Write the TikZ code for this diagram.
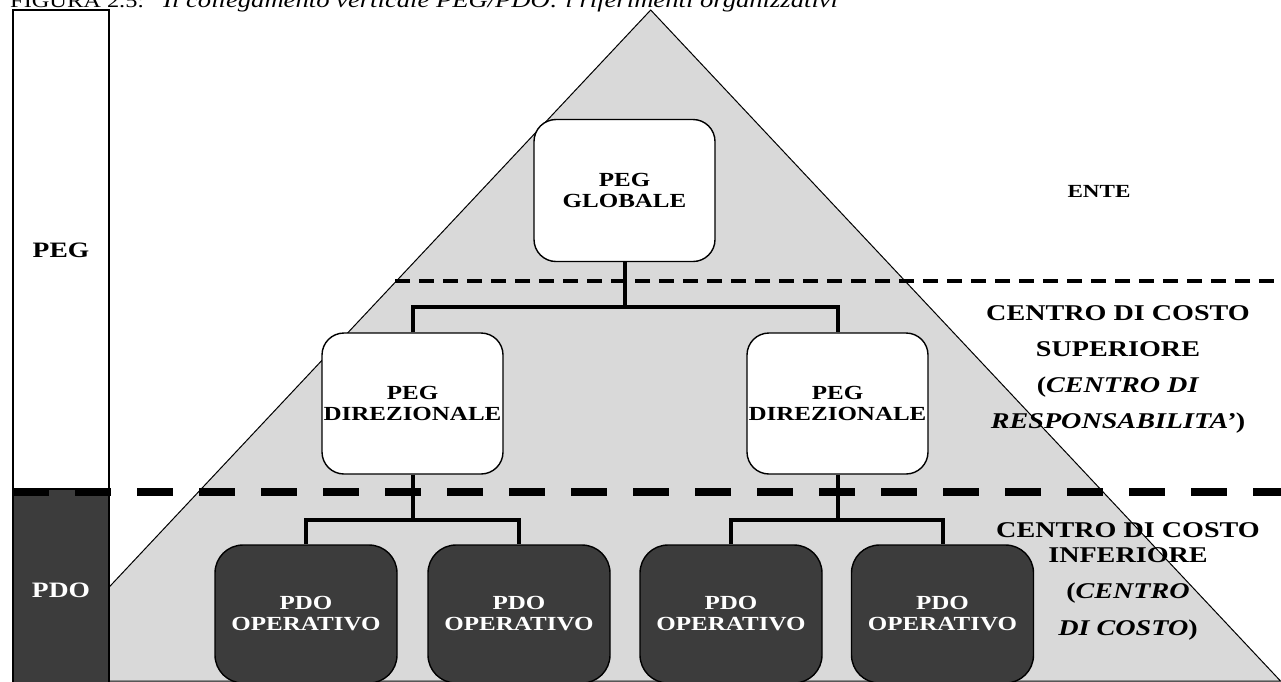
\documentclass[tikz,border=0pt]{standalone}
\usepackage{fontspec}
\setmainfont{Liberation Serif}[FakeStretch=1.25]
\definecolor{lightfill}{HTML}{D9D9D9}
\definecolor{darkfill}{HTML}{3C3C3C}
\begin{document}
\begin{tikzpicture}[x=1pt,y=-1pt,
  boxtext/.style={font=\bfseries\fontsize{20}{21}\selectfont, align=center},
  pegbox/.style={draw, line width=1.4pt, fill=white, rounded corners=22pt, boxtext, inner sep=0pt},
  pdobox/.style={draw, line width=1.4pt, fill=darkfill, text=white, rounded corners=28pt, boxtext, inner sep=0pt},
  conn/.style={line width=4pt},
  sidelab/.style={font=\bfseries\fontsize{22.5}{23}\selectfont, anchor=base},
  barlab/.style={font=\bfseries\fontsize{22}{23}\selectfont, anchor=base},
]
\useasboundingbox (0,0) rectangle (1281,681);
\clip (0,0) rectangle (1281,681);

% title
\node[anchor=base west, inner sep=0pt, font=\fontsize{19.5}{21}\selectfont] (fig) at (10,7) {FIGURA 2.5:};
\node[anchor=base west, inner sep=0pt, font=\itshape\fontsize{21.3}{23}\selectfont] (title) at (163,7) {Il collegamento verticale PEG/PDO: i riferimenti organizzativi};

% pyramid
\coordinate (apex) at (650.7,10);
\coordinate (bl) at (21,681);
\coordinate (br) at (1280.5,681);
\fill[lightfill] (apex) -- (bl) -- (br) -- cycle;

% right labels
\node[sidelab, font=\bfseries\fontsize{18.5}{19}\selectfont] (ente) at (1099,197) {ENTE};
\node[sidelab] (s1) at (1118,320) {CENTRO DI COSTO};
\node[sidelab] (s2) at (1118,356) {SUPERIORE};
\node[sidelab] (s3) at (1118,392) {(\textit{CENTRO DI}};
\node[sidelab] (s4) at (1118,428) {\textit{RESPONSABILITA’}) };
\node[sidelab] (i1) at (1128,537) {CENTRO DI COSTO};
\node[sidelab] (i2) at (1128,562) {INFERIORE};
\node[sidelab] (i3) at (1128,598) {(\textit{CENTRO}};
\node[sidelab] (i4) at (1128,635) {\textit{DI COSTO})};

\draw[line width=1pt] (apex) -- (bl) -- (br) -- cycle;

% left bars
\draw[line width=1.2pt, fill=white] (13,10) rectangle (109,489);
\draw[line width=1.2pt, fill=darkfill] (13,489) rectangle (109,690);
\node[barlab] (pegbar) at (61,257) {PEG};
\node[barlab, text=white] (pdobar) at (61,597) {PDO};

% level separators
\coordinate (sepA) at (395.4,281);
\coordinate (sepAend) at (1281,281);
\draw[line width=4pt, dash pattern=on 15pt off 9pt] (sepA) -- (sepAend);
\coordinate (sepB) at (13,491.5);
\coordinate (sepBend) at (1290,491.5);
\draw[line width=8pt, dash pattern=on 36pt off 26pt] (sepB) -- (sepBend);

% boxes
\node[pegbox, minimum width=181pt, minimum height=142pt] (gl) at (624.5,190.5) {PEG\\GLOBALE};
\node[pegbox, minimum width=181pt, minimum height=141pt] (d1) at (412.5,403.5) {PEG\\DIREZIONALE};
\node[pegbox, minimum width=181pt, minimum height=141pt] (d2) at (837.5,403.5) {PEG\\DIREZIONALE};
\node[pdobox, minimum width=182pt, minimum height=138pt] (p1) at (306,614) {PDO\\OPERATIVO};
\node[pdobox, minimum width=182pt, minimum height=138pt] (p2) at (519,614) {PDO\\OPERATIVO};
\node[pdobox, minimum width=182pt, minimum height=138pt] (p3) at (731,614) {PDO\\OPERATIVO};
\node[pdobox, minimum width=182pt, minimum height=138pt] (p4) at (942.5,614) {PDO\\OPERATIVO};

% connectors
\coordinate (bus1) at (0,307);
\coordinate (bus2) at (0,520);
\draw[conn] (gl.south) -- (gl.south |- bus1);
\draw[conn] (d1.north) |- (d2.north |- bus1) -- (d2.north);
\draw[conn] (d1.south) -- (d1.south |- bus2);
\draw[conn] (p1.north) |- (p2.north |- bus2) -- (p2.north);
\draw[conn] (d2.south) -- (d2.south |- bus2);
\draw[conn] (p3.north) |- (p4.north |- bus2) -- (p4.north);
\end{tikzpicture}
\end{document}
